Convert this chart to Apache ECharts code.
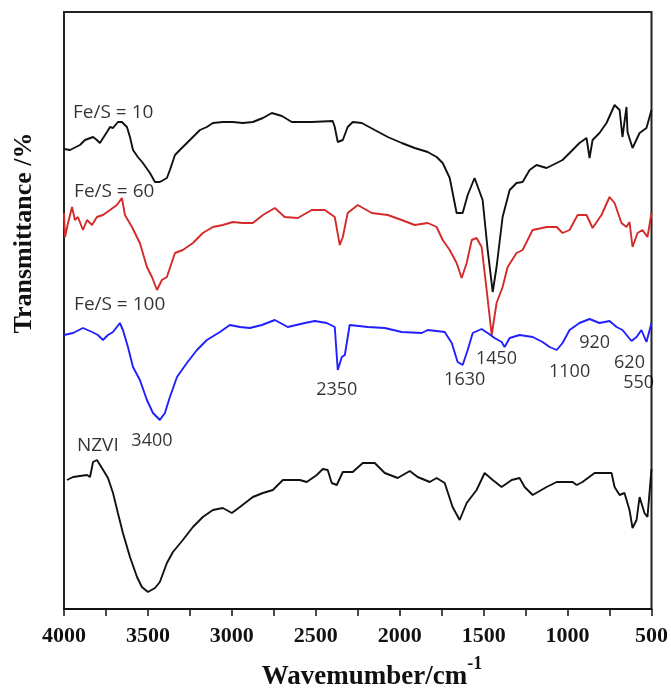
<!DOCTYPE html>
<html>
<head>
<meta charset="utf-8">
<script src="https://cdn.jsdelivr.net/npm/echarts@6/dist/echarts.min.js"></script>
<style>
html,body{margin:0;padding:0;background:#fff;}
#chart{width:671px;height:690px;}
</style>
</head>
<body>
<div id="chart"></div>
<script>
// Wavenumber (cm^-1), offset transmittance (arbitrary units, stacked)
const feS10 = [[4000,460],[3964,459],[3905,464],[3875,469],[3827,472],[3804,469],[3786,466],[3744,477],[3726,482],[3708,481],[3679,487],[3655,487],[3625,482],[3607,472],[3589,459],[3560,452],[3530,446],[3488,436],[3458,427],[3429,427],[3387,431],[3369,439],[3339,454],[3310,459],[3268,466],[3232,472],[3190,479],[3149,482],[3113,486],[3054,487],[2994,487],[2935,486],[2875,487],[2815,491],[2762,496],[2702,493],[2643,487],[2524,487],[2399,488],[2387,482],[2369,467],[2339,469],[2310,482],[2280,487],[2226,486],[2149,479],[2071,472],[1988,466],[1911,461],[1833,457],[1780,452],[1744,446],[1702,431],[1661,396],[1625,396],[1595,414],[1554,431],[1506,409],[1476,359],[1446,317],[1423,342],[1387,392],[1345,419],[1304,426],[1268,427],[1226,439],[1185,444],[1125,441],[1065,446],[1030,449],[988,456],[929,466],[887,471],[869,451],[851,469],[810,476],[768,486],[720,504],[690,499],[673,472],[649,502],[643,477],[613,461],[571,476],[530,481],[500,499]];

const feS60 = [[4000,396],[3994,372],[3976,386],[3952,402],[3935,389],[3917,392],[3887,379],[3863,389],[3833,384],[3804,392],[3768,394],[3726,399],[3685,404],[3655,411],[3637,394],[3595,382],[3548,366],[3506,342],[3476,332],[3446,319],[3417,329],[3387,332],[3339,356],[3292,359],[3232,366],[3173,376],[3113,382],[3054,384],[2994,387],[2935,386],[2875,386],[2815,394],[2744,401],[2685,392],[2607,391],[2524,399],[2446,399],[2387,392],[2357,364],[2339,372],[2310,396],[2250,404],[2167,396],[2071,394],[1988,389],[1911,384],[1833,386],[1780,382],[1744,369],[1702,359],[1661,346],[1631,331],[1601,346],[1571,369],[1542,371],[1512,362],[1482,319],[1452,274],[1423,306],[1387,322],[1357,342],[1304,356],[1268,359],[1208,379],[1125,382],[1065,382],[1030,376],[988,379],[940,394],[887,394],[851,381],[798,394],[750,412],[720,406],[679,386],[649,382],[631,387],[613,362],[583,376],[554,379],[524,372],[500,396]];

const feS100 = [[4000,274],[3946,276],[3887,281],[3833,277],[3798,274],[3768,269],[3738,274],[3708,277],[3667,286],[3649,279],[3619,262],[3589,242],[3548,229],[3506,209],[3470,196],[3429,189],[3399,196],[3369,212],[3327,232],[3268,246],[3208,259],[3149,269],[3071,277],[3012,284],[2952,282],[2893,281],[2821,284],[2744,289],[2667,282],[2565,286],[2506,288],[2435,286],[2387,282],[2369,239],[2345,252],[2327,254],[2298,284],[2190,282],[2089,281],[1988,277],[1869,276],[1833,279],[1732,277],[1690,266],[1655,247],[1625,244],[1595,259],[1565,276],[1512,280],[1476,276],[1435,271],[1393,267],[1375,262],[1345,271],[1286,274],[1208,272],[1149,267],[1107,262],[1065,259],[1030,266],[988,279],[929,286],[869,290],[810,286],[750,288],[708,282],[673,279],[619,268],[589,272],[560,279],[530,267],[500,286]];

const nzvi = [[3982,129],[3946,132],[3905,133],[3863,134],[3845,132],[3827,147],[3804,149],[3774,141],[3738,131],[3708,116],[3679,96],[3649,76],[3607,52],[3565,32],[3536,22],[3500,17],[3458,21],[3429,27],[3387,46],[3351,57],[3292,69],[3232,82],[3173,92],[3113,99],[3054,101],[3000,96],[2952,102],[2875,112],[2815,116],[2756,119],[2696,129],[2595,129],[2554,127],[2494,134],[2458,140],[2429,139],[2405,126],[2375,124],[2339,137],[2280,137],[2220,146],[2149,146],[2089,136],[2012,131],[1940,138],[1893,132],[1821,127],[1780,131],[1732,126],[1685,102],[1643,89],[1601,106],[1542,119],[1494,136],[1446,129],[1393,122],[1333,129],[1286,131],[1256,122],[1208,114],[1125,122],[1065,127],[970,127],[946,124],[911,127],[839,136],[738,136],[720,122],[690,114],[661,116],[631,99],[613,81],[589,89],[571,112],[542,96],[524,92],[500,140]];

// Sample name labels: [wavenumber, y, text]
const sampleLabels = [[3946,496,'Fe/S = 10'],[3940,417,'Fe/S = 60'],[3940,304,'Fe/S = 100'],[3923,163,'NZVI']];
// Peak labels: [wavenumber, y, text]
const peakLabels = [[3476,168,'3400'],[2375,219,'2350'],[1613,229,'1630'],[1423,250,'1450'],[988,237,'1100'],[839,266,'920'],[631,246,'620'],[577,226,'550']];

const xTicks = {min: 500, max: 4000, step: 500};

const chart = echarts.init(document.getElementById('chart'), null, {renderer: 'canvas'});
const lineSeries = (data, color) => ({
  type: 'line', data: data, showSymbol: false, symbol: 'none',
  lineStyle: {color: color, width: 1.9}, itemStyle: {color: color},
  silent: true, animation: false, z: 3
});
chart.setOption({
  animation: false,
  backgroundColor: '#ffffff',
  grid: {left: 64, right: 17, top: 12, bottom: 81, show: true, borderColor: '#222', borderWidth: 2, backgroundColor: 'transparent'},
  xAxis: {
    type: 'value', inverse: true, min: xTicks.min, max: xTicks.max, interval: xTicks.step,
    axisLine: {show: true, lineStyle: {color: '#111', width: 2}},
    axisTick: {show: true, inside: false, length: 7, lineStyle: {color: '#111', width: 1.5}},
    minorTick: {show: true, splitNumber: 2, length: 7, lineStyle: {color: '#111', width: 1.5}},
    splitLine: {show: false},
    minorSplitLine: {show: false},
    axisLabel: {fontFamily: '"Liberation Serif"', fontWeight: 'bold', fontSize: 22, color: '#111', margin: 16,
      formatter: v => String(v)}
  },
  yAxis: {
    type: 'value', min: 0, max: 597,
    axisLine: {show: false}, axisTick: {show: false}, axisLabel: {show: false}, splitLine: {show: false}
  },
  graphic: [
    {type: 'text', x: 24, y: 233, rotation: Math.PI / 2, silent: true,
     style: {text: 'Transmittance /%', font: 'bold 26px "Liberation Serif"', fill: '#111', align: 'center', verticalAlign: 'middle'}},
    {type: 'text', x: 372, y: 677, silent: true,
     style: {text: '{a|Wavemumber/cm}{b|-1}', align: 'center', verticalAlign: 'middle',
       rich: {
         a: {font: 'bold 27px "Liberation Serif"', fill: '#111', lineHeight: 44, verticalAlign: 'middle'},
         b: {font: 'bold 18px "Liberation Serif"', fill: '#111', lineHeight: 44, verticalAlign: 'top'}
       }}}
  ],
  series: [
    lineSeries(feS10, '#111111'),
    lineSeries(feS60, '#d42a2a'),
    lineSeries(feS100, '#1f1fff'),
    lineSeries(nzvi, '#111111'),
    {type: 'scatter', data: sampleLabels, symbolSize: 1, itemStyle: {color: 'transparent'}, silent: true, z: 5,
     label: {show: true, position: 'inside', align: 'left', verticalAlign: 'middle', formatter: p => p.data[2],
       fontFamily: '"Open Sans"', fontSize: 19, color: '#000'}},
    {type: 'scatter', data: peakLabels, symbolSize: 1, itemStyle: {color: 'transparent'}, silent: true, z: 5,
     label: {show: true, position: 'inside', align: 'center', verticalAlign: 'middle', formatter: p => p.data[2],
       fontFamily: '"Open Sans"', fontSize: 18, color: '#000'}}
  ]
});
</script>
</body>
</html>
